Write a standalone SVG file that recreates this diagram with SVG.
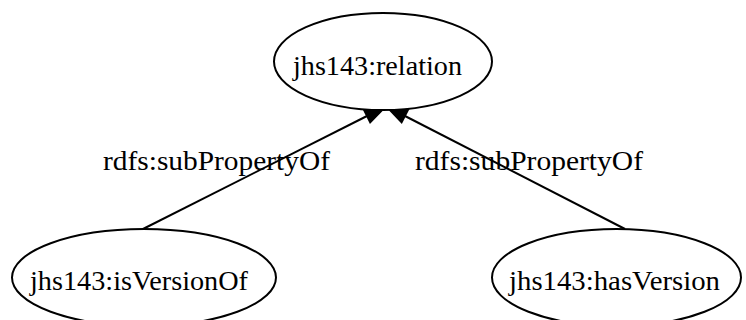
<svg xmlns="http://www.w3.org/2000/svg" width="746" height="320" viewBox="0 0 746 320">
  <style>
    .node ellipse { fill: #ffffff; stroke: #000000; stroke-width: 2; }
    .node text, .edge text { font-family: "Liberation Serif", "DejaVu Serif", serif; font-size: 28px; fill: #000000; text-anchor: middle; }
    .edge line { stroke: #000000; stroke-width: 2; }
    .edge polygon { fill: #000000; stroke: #000000; stroke-width: 2; stroke-linejoin: miter; }
  </style>
  <rect width="746" height="320" fill="#ffffff"/>

  <!-- subPropertyOf links, each ending in a filled arrowhead -->
  <g id="edges">
    <g class="edge" id="edge-isVersionOf-relation">
      <line x1="143" y1="229" x2="367" y2="116"/>
      <polygon points="385,107 364,109.7 370.2,122.3"/>
      <text x="216.5" y="170" textLength="227" lengthAdjust="spacingAndGlyphs">rdfs:subPropertyOf</text>
    </g>
    <g class="edge" id="edge-hasVersion-relation">
      <line x1="625" y1="229" x2="405" y2="116"/>
      <polygon points="387,107 408,109.9 401.6,122.3"/>
      <text x="529" y="170" textLength="228" lengthAdjust="spacingAndGlyphs">rdfs:subPropertyOf</text>
    </g>
  </g>

  <g class="node" id="node-relation">
    <ellipse cx="383" cy="61.5" rx="109" ry="48.5"/>
    <text x="377.5" y="75" textLength="169" lengthAdjust="spacingAndGlyphs">jhs143:relation</text>
  </g>

  <g class="node" id="node-isVersionOf">
    <ellipse cx="144" cy="277.5" rx="132" ry="48.5"/>
    <text x="139" y="290" textLength="218" lengthAdjust="spacingAndGlyphs">jhs143:isVersionOf</text>
  </g>

  <g class="node" id="node-hasVersion">
    <ellipse cx="616.5" cy="277.5" rx="124.5" ry="48.5"/>
    <text x="614.5" y="290" textLength="211" lengthAdjust="spacingAndGlyphs">jhs143:hasVersion</text>
  </g>
</svg>
